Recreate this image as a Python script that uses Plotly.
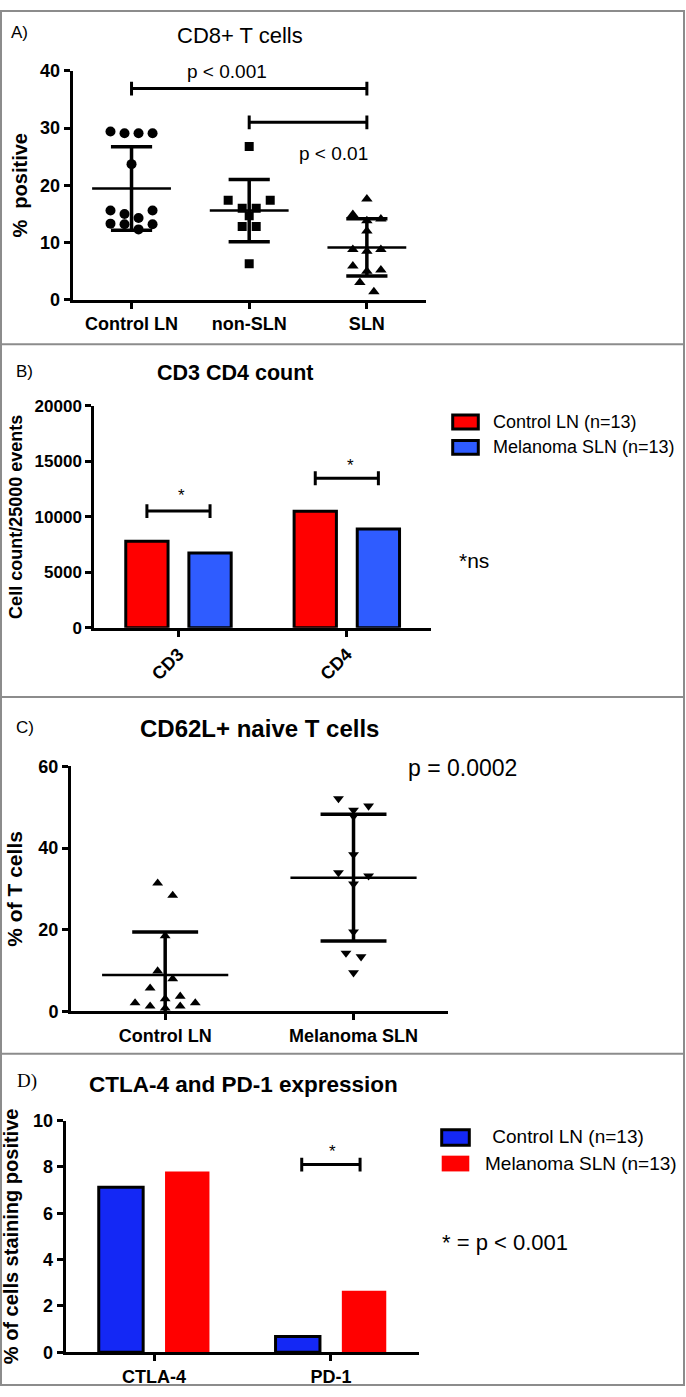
import statistics

import plotly.graph_objects as go

W, H = 686, 1397
FONT = "Liberation Sans, Arial, sans-serif"

# A) CD8+ T cells, % positive
cd8_groups = ["Control LN", "non-SLN", "SLN"]
cd8_control = [29.4, 29.1, 29.1, 29.1, 23.7, 15.6, 15.6, 15.0, 14.3, 13.3, 13.2, 13.2, 12.3]
cd8_non_sln = [26.8, 17.4, 17.4, 16.0, 16.0, 14.7, 12.8, 12.8, 6.3]
cd8_sln = [17.6, 14.9, 14.1, 13.8, 12.0, 8.8, 8.8, 8.5, 5.9, 5.2, 5.0, 3.0, 1.4]

# B) CD3 CD4 count
count_cats = ["CD3", "CD4"]
count_control = [7800, 10500]
count_melanoma = [6750, 8900]

# C) CD62L+ naive T cells, % of T cells
naive_groups = ["Control LN", "Melanoma SLN"]
naive_control = [31.4, 28.4, 18.5, 9.9, 8.0, 5.7, 3.7, 3.1, 2.1, 2.1, 1.3, 1.3, 0.8]
naive_melanoma = [52.1, 50.3, 49.3, 47.8, 38.4, 34.0, 33.2, 31.2, 19.5, 14.3, 13.4, 9.5]

# D) CTLA-4 and PD-1 expression
exp_cats = ["CTLA-4", "PD-1"]
exp_control = [7.12, 0.68]
exp_melanoma = [7.8, 2.65]

RED = "#ff0000"
BLUE_B = "#2f5cff"
BLUE_D = "#1428f5"
BARGAP = 0.25


def px(x):
    return x / W


def py(y):
    return 1 - y / H


def swarm(vals, tol):
    # group close values into rows and spread each row around the centre
    order = sorted(range(len(vals)), key=lambda i: -vals[i])
    rows = []
    for i in order:
        if rows and vals[rows[-1][0]] - vals[i] <= tol:
            rows[-1].append(i)
        else:
            rows.append([i])
    offs = [0.0] * len(vals)
    for row in rows:
        n = len(row)
        if n % 2:
            slots = [0] + [v for k in range(1, n // 2 + 1) for v in (k, -k)]
        else:
            slots = [v for k in range(n // 2) for v in (k + 0.5, -(k + 0.5))]
        for i, s in zip(sorted(row, key=lambda j: vals[j]), slots):
            offs[i] = s
    return offs


def add_dots(fig, vals, idx, symbol, size, step, tol, n):
    offs = swarm(vals, tol)
    fig.add_trace(go.Scatter(
        x=[idx + o * step for o in offs], y=vals, mode="markers",
        marker=dict(symbol=symbol, size=size, color="black"),
        xaxis="x" + n, yaxis="y" + n, showlegend=False, hoverinfo="y"))
    m = statistics.mean(vals)
    s = statistics.stdev(vals)
    fig.add_trace(go.Scatter(
        x=[idx - 0.335, idx + 0.335], y=[m, m], mode="lines",
        line=dict(color="black", width=2.5),
        xaxis="x" + n, yaxis="y" + n, showlegend=False, hoverinfo="skip"))
    fig.add_trace(go.Scatter(
        x=[idx, idx, None, idx - 0.175, idx + 0.175, None, idx - 0.175, idx + 0.175],
        y=[m - s, m + s, None, m + s, m + s, None, m - s, m - s], mode="lines",
        line=dict(color="black", width=3.5),
        xaxis="x" + n, yaxis="y" + n, showlegend=False, hoverinfo="skip"))


fig = go.Figure()

# panel A
step_a = 14 / 117.5
for i, (vals, sym) in enumerate(zip([cd8_control, cd8_non_sln, cd8_sln],
                                    ["circle", "square", "triangle-up"])):
    add_dots(fig, vals, i, sym, {"circle": 10, "square": 9, "triangle-up": 10}[sym],
             step_a, 1.6, "")

# panel B
fig.add_trace(go.Bar(x=count_cats, y=count_control, name="Control LN (n=13)",
                     marker=dict(color=RED, line=dict(color="black", width=3)),
                     xaxis="x2", yaxis="y2", showlegend=False))
fig.add_trace(go.Bar(x=count_cats, y=count_melanoma, name="Melanoma SLN (n=13)",
                     marker=dict(color=BLUE_B, line=dict(color="black", width=3)),
                     xaxis="x2", yaxis="y2", showlegend=False))

# panel C
step_c = 15 / 187.7
for i, (vals, sym) in enumerate(zip([naive_control, naive_melanoma],
                                    ["triangle-up", "triangle-down"])):
    add_dots(fig, vals, i, sym, 9.5, step_c, 3.1, "3")

# panel D
fig.add_trace(go.Bar(x=exp_cats, y=exp_control, name="Control LN (n=13)",
                     marker=dict(color=BLUE_D, line=dict(color="black", width=3)),
                     xaxis="x4", yaxis="y4", showlegend=False))
fig.add_trace(go.Bar(x=exp_cats, y=exp_melanoma, name="Melanoma SLN (n=13)",
                     marker=dict(color=RED, line=dict(width=0)),
                     xaxis="x4", yaxis="y4", showlegend=False))

tick_font = dict(family=FONT, size=18, color="black", weight="bold")
axis = dict(showline=True, linecolor="black", linewidth=3, ticks="outside",
            ticklen=6, tickwidth=3, tickcolor="black", showgrid=False,
            zeroline=False, tickfont=tick_font, fixedrange=True)


def ytitle(text, size, standoff):
    return dict(text=text, standoff=standoff,
                font=dict(family=FONT, size=size, color="black", weight="bold"))


fig.update_layout(
    width=W, height=H, margin=dict(l=0, r=0, t=0, b=0),
    paper_bgcolor="white", plot_bgcolor="white",
    barmode="group", bargap=BARGAP, bargroupgap=0.33,
    xaxis=dict(axis, domain=[px(72.7), px(425.7)], range=[-0.5, 2.5],
               tickvals=[0, 1, 2], ticktext=cd8_groups, anchor="y"),
    yaxis=dict(axis, domain=[py(294), py(61.7)], range=[0, 40],
               tickvals=[0, 10, 20, 30, 40], anchor="x",
               title=ytitle("%\u00a0 positive", 20, 8)),
    xaxis2=dict(axis, domain=[px(94.3), px(431)], range=[-0.5, 1.5],
                tickangle=-45, anchor="y2"),
    yaxis2=dict(axis, domain=[py(626.7), py(401.7)], range=[0, 20000],
                tickvals=[0, 5000, 10000, 15000, 20000], tickformat="d", anchor="x2",
                tickfont=dict(tick_font, size=17),
                title=ytitle("Cell count/25000 events", 18, 8)),
    xaxis3=dict(axis, domain=[px(71), px(447.7)], range=[-0.5, 1.5],
                tickvals=[0, 1], ticktext=naive_groups, anchor="y3"),
    yaxis3=dict(axis, domain=[py(1016), py(767.3)], range=[0, 60],
                tickvals=[0, 20, 40, 60], anchor="x3",
                title=ytitle("% of T cells", 21, 11)),
    xaxis4=dict(axis, domain=[px(65.7), px(419.3)], range=[-0.5, 1.5], anchor="y4"),
    yaxis4=dict(axis, domain=[py(1361.7), py(1126.7)], range=[0, 10],
                tickvals=[0, 2, 4, 6, 8, 10], anchor="x4",
                title=ytitle("% of cells staining positive", 20, 12)),
)

shapes = []
# panel frames
frame = dict(type="line", xref="paper", yref="paper", line=dict(color="#8c8c8c", width=2))
shapes.append(dict(type="rect", xref="paper", yref="paper", x0=px(1), x1=px(684),
                   y0=py(1395), y1=py(1), line=dict(color="#8c8c8c", width=2)))
for yy in [339, 697, 1059]:
    shapes.append(dict(frame, x0=px(1), x1=px(684), y0=py(yy), y1=py(yy)))


def bracket(xr, yr, x0, x1, y, cap):
    ln = dict(color="black", width=3)
    return [dict(type="line", xref=xr, yref=yr, x0=x0, x1=x1, y0=y, y1=y, line=ln),
            dict(type="line", xref=xr, yref=yr, x0=x0, x1=x0, y0=y - cap, y1=y + cap, line=ln),
            dict(type="line", xref=xr, yref=yr, x0=x1, x1=x1, y0=y - cap, y1=y + cap, line=ln)]


off = (1 - BARGAP) / 4
shapes += bracket("x", "y", 0, 2, 36.9, 1.2)
shapes += bracket("x", "y", 1, 2, 31.0, 1.2)
shapes += bracket("x2", "y2", 0 - off, 0 + off, 10520, 620)
shapes += bracket("x2", "y2", 1 - off, 1 + off, 13480, 620)
shapes += bracket("x4", "y4", 1 - 0.165, 1 + 0.165, 8.1, 0.3)

# hand-drawn legends (GraphPad style swatches)
for (y0, y1), col in zip([(411, 425), (436.7, 450.7)], [RED, BLUE_B]):
    shapes.append(dict(type="rect", xref="paper", yref="paper", x0=px(452.7), x1=px(478.3),
                       y0=py(y1), y1=py(y0), fillcolor=col, line=dict(color="black", width=3)))
shapes.append(dict(type="rect", xref="paper", yref="paper", x0=px(441.7), x1=px(469.3),
                   y0=py(1151.7), y1=py(1136), fillcolor=BLUE_D, line=dict(color="black", width=3)))
shapes.append(dict(type="rect", xref="paper", yref="paper", x0=px(441.7), x1=px(469.3),
                   y0=py(1178.3), y1=py(1162.3), fillcolor=RED, line=dict(width=0)))

annotations = []


def label(text, x, y, size, bold=False, xanchor="center", family=FONT):
    font = dict(family=family, size=size, color="black")
    if bold:
        font["weight"] = "bold"
    annotations.append(dict(text=text, x=px(x), y=py(y), xref="paper", yref="paper",
                            xanchor=xanchor, yanchor="middle", showarrow=False, font=font))


label("A)", 19.5, 22.5, 17)
label("CD8+ T cells", 240, 26, 22)
label("p < 0.001", 227, 62, 19)
label("p < 0.01", 333, 146, 19)

label("B)", 24, 367, 17)
label("CD3 CD4 count", 235, 368, 21.5, bold=True)
label("*", 181.7, 493, 17)
label("*", 350, 462, 17)
label("*ns", 456.7, 558, 21, xanchor="left")
label("Control LN (n=13)", 491, 417.7, 18, xanchor="left")
label("Melanoma SLN (n=13)", 491, 443.3, 18, xanchor="left")

label("C)", 24.7, 728, 17)
label("CD62L+ naive T cells", 259.6, 729, 24, bold=True)
label("p = 0.0002", 406, 769, 23, xanchor="left")

label("D)", 26.7, 1086.7, 19, family="Liberation Serif, Times New Roman, serif")
label("CTLA-4 and PD-1 expression", 243, 1090, 22.5, bold=True)
label("*", 332.7, 1158.5, 17)
label(" Control LN (n=13)", 485, 1143.3, 19, xanchor="left")
label("Melanoma SLN (n=13)", 482.7, 1170, 19, xanchor="left")
label("* = p < 0.001", 440, 1250, 22, xanchor="left")

fig.update_layout(shapes=shapes, annotations=annotations)

# drop the default 8px page margin so the figure fills the window exactly
fig.write_html("out.html", config={"displayModeBar": False},
               post_script="document.body.style.margin='0';"
               "document.documentElement.style.overflow='hidden';")
